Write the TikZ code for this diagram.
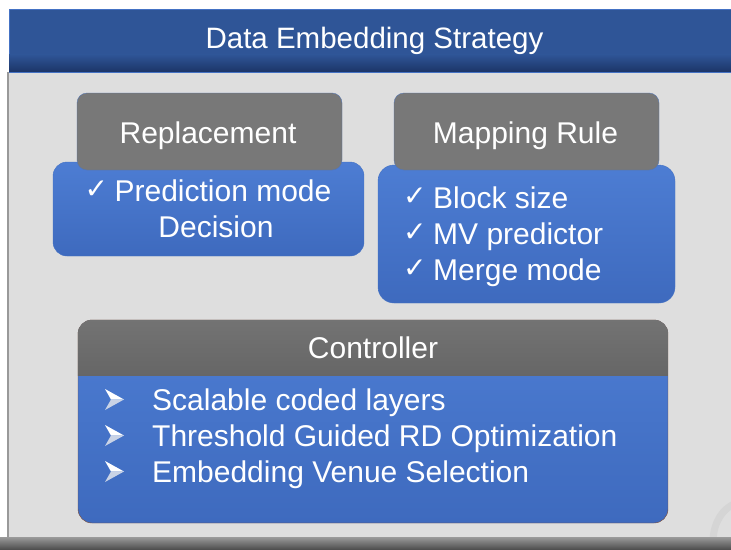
\documentclass[tikz,border=0pt]{standalone}
\usepackage{fontspec}
\setmainfont{Liberation Sans}
\newfontfamily\dejavu{DejaVu Sans}
\usetikzlibrary{positioning}

\definecolor{titleblue}{HTML}{2F5597}
\definecolor{titledark}{HTML}{1B3466}
\definecolor{boxblue}{HTML}{4472C4}
\definecolor{bodytop}{HTML}{4D7DD3}
\definecolor{bodybot}{HTML}{3E6ABE}
\definecolor{headgray}{HTML}{787878}
\definecolor{ctrltop}{HTML}{737373}
\definecolor{ctrlbot}{HTML}{444444}
\definecolor{ctrlline}{HTML}{7A4A35}
\definecolor{panelgray}{HTML}{DEDEDE}
\definecolor{swirlgray}{HTML}{D5D5D5}
\definecolor{striptop}{HTML}{9A9A9A}
\definecolor{stripbot}{HTML}{505050}
\definecolor{facetgray}{HTML}{C9D3E6}

\newcommand{\tickmk}{\makebox[30pt][l]{\raisebox{3pt}{\dejavu\fontsize{28}{28}\selectfont ✓}}}

\begin{document}
\begin{tikzpicture}[x=1pt, y=-1pt,
    headbox/.style={draw=boxblue!70!gray, fill=headgray, rounded corners=10pt, inner sep=0pt},
    bodybox/.style={draw=boxblue, top color=bodytop, bottom color=bodybot, rounded corners=14pt, inner sep=0pt},
    headtext/.style={text=white, font=\fontsize{30}{36}\selectfont, inner sep=0pt},
    itemtext/.style={text=white, font=\fontsize{30}{36}\selectfont, align=left, inner sep=0pt}]
    \useasboundingbox (0,0) rectangle (731,549);

    % backdrop
    \fill[white] (0,0) rectangle (731,549);
    \fill[panelgray] (7,72) rectangle (731,537);
    \draw[swirlgray, line width=7pt] (713,540) .. controls (714,522) and (722,509) .. (736,503);
    \draw[gray!80, line width=1.5pt] (7.75,72) -- (7.75,537);
    \shade[top color=striptop, bottom color=stripbot] (0,537) rectangle (731,549);

    % title bar
    \node[draw=boxblue, fill=titleblue, minimum width=731pt, minimum height=63pt, anchor=north west, inner sep=0pt] (title) at (9,9) {};
    \shade[top color=titleblue, bottom color=titledark] ([yshift=18pt]title.south west) rectangle (title.south east);
    \draw[boxblue, line width=1pt] (title.south west) -- (title.south east);
    \node[text=white, font=\fontsize{29.5}{34}\selectfont, inner sep=0pt, anchor=base] (titleText) at (374.5,48) {Data Embedding Strategy};

    % replacement
    \node[bodybox, minimum width=311pt, minimum height=94pt] (repBody) at (208.5,209) {};
    \node[headbox, minimum width=265pt, minimum height=77pt] (repHead) at (209.5,131.5) {};
    \node[headtext, anchor=base] (repTitle) at (208,143) {Replacement};
    \node[itemtext, align=center, anchor=base] (repItems) at (208,237) {\tickmk Prediction mode\\\hspace*{16pt}Decision};

    % mapping rule
    \node[bodybox, minimum width=297pt, minimum height=138pt, rounded corners=16pt] (mapBody) at (526.5,234) {};
    \node[headbox, minimum width=265pt, minimum height=77pt] (mapHead) at (526.5,131.5) {};
    \node[headtext, anchor=base] (mapTitle) at (525.5,143) {Mapping Rule};
    \node[itemtext, anchor=base west] (mapItems) at (403,280) {\tickmk Block size\\\tickmk MV predictor\\\tickmk Merge mode};

    % controller
    \node[bodybox, draw=ctrlline, minimum width=590pt, minimum height=203pt] (ctrlBody) at (373,421.5) {};
    \begin{scope}
        \clip (ctrlBody.north west) rectangle ([yshift=-56pt]ctrlBody.north east);
        \shade[top color=ctrltop, bottom color=ctrlbot, rounded corners=14pt] (ctrlBody.north west) rectangle (ctrlBody.south east);
    \end{scope}
    \node[headtext, anchor=base] (ctrlTitle) at (373,358) {Controller};
    \node[itemtext, anchor=base west] (ctrlItems) at (152,482) {Scalable coded layers\\Threshold Guided RD Optimization\\Embedding Venue Selection};

    % arrowhead bullets
    \foreach \yy in {399.5, 435.5, 471.5} {
        \fill[white] (105,\yy-10.5) -- (124,\yy) -- (111,\yy) -- cycle;
        \fill[facetgray] (111,\yy) -- (124,\yy) -- (105,\yy+10.5) -- cycle;
    }
\end{tikzpicture}
\end{document}
